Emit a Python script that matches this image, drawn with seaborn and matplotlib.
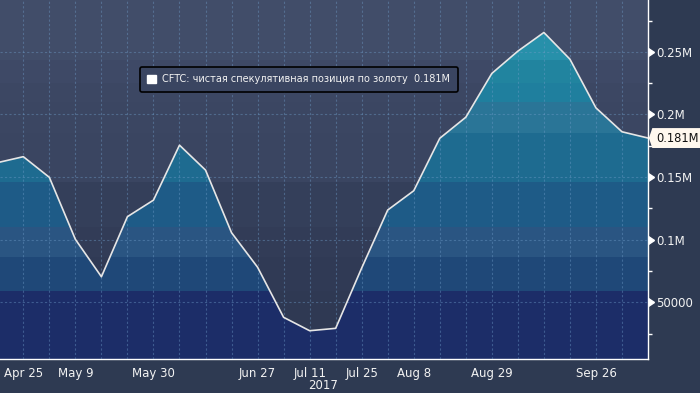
import pandas as pd
import seaborn as sns
import matplotlib.pyplot as plt
import matplotlib.dates as mdates
from matplotlib.markers import CARETRIGHTBASE
from matplotlib.patches import Patch
from matplotlib.path import Path
from matplotlib.ticker import FixedLocator, FixedFormatter, MultipleLocator
from matplotlib.transforms import blended_transform_factory

# weekly CFTC net speculative position in gold (contracts)
dates = ['2017-04-18', '2017-04-25', '2017-05-02', '2017-05-09', '2017-05-16',
         '2017-05-23', '2017-05-30', '2017-06-06', '2017-06-13', '2017-06-20',
         '2017-06-27', '2017-07-04', '2017-07-11', '2017-07-18', '2017-07-25',
         '2017-08-01', '2017-08-08', '2017-08-15', '2017-08-22', '2017-08-29',
         '2017-09-05', '2017-09-12', '2017-09-19', '2017-09-26', '2017-10-03',
         '2017-10-10']
net_position = [161500, 166300, 149800, 100300, 70400,
                118400, 131600, 175500, 155600, 105600,
                78000, 38000, 27300, 29200, 77400,
                123700, 139100, 181000, 197800, 232800,
                250600, 265500, 244200, 205300, 186200,
                181200]

labeled_dates = ['2017-04-25', '2017-05-09', '2017-05-30', '2017-06-27', '2017-07-11',
                 '2017-07-25', '2017-08-08', '2017-08-29', '2017-09-26']
ytick_values = [50000, 100000, 150000, 200000, 250000]
ytick_labels = ['50000', '0.1M', '0.15M', '0.2M', '0.25M']

series_label = 'CFTC: чистая спекулятивная позиция по золоту  0.181M'
last_label = '0.181M'

# horizontal colour bands (Bloomberg style gradient)
band_edges = [0, 59000, 86400, 110100, 146300, 184900, 210100, 224800, 243400, 300000]
area_colors = ['#1c2d68', '#1f4878', '#2a5582', '#1e5b87', '#1e6b90',
               '#2a7597', '#1f7f9e', '#21849f', '#2790aa']
bg_colors = ['#2f3953', '#303a55', '#323c57', '#343f5a', '#3a4561',
             '#3b4662', '#3c4763', '#3e4966', '#414d69']

df = pd.DataFrame({'date': pd.to_datetime(dates), 'value': net_position})

sns.set_style('dark')
plt.rcParams['font.family'] = ['DejaVu Sans']

fig = plt.figure(figsize=(7, 3.93), dpi=100, facecolor='#2e3a52')
ax = fig.add_axes([0, 1 - 359.3 / 393, 648 / 700, 359.3 / 393])
ax.set_facecolor('#3b4662')

# background bands
for lo, hi, c in zip(band_edges[:-1], band_edges[1:], bg_colors):
    ax.axhspan(lo, hi, color=c, lw=0, zorder=0)

# area under the line, coloured by bands
poly = ax.fill_between(df['date'], 0, df['value'], facecolor='none', lw=0)
clip = poly.get_paths()[0]
for lo, hi, c in zip(band_edges[:-1], band_edges[1:], area_colors):
    span = ax.axhspan(lo, hi, color=c, lw=0, zorder=1)
    span.set_clip_path(clip, ax.transData)

sns.lineplot(data=df, x='date', y='value', color='#e6e6e6', lw=1.2, ax=ax, zorder=4)
ax.set_xlabel('')
ax.set_ylabel('')

ax.set_ylim(4470, 291450)
ax.set_xlim(pd.Timestamp('2017-04-18 17:30'), df['date'].iloc[-1])

# x axis: a tick every week, labels on a few
ax.xaxis.set_major_locator(FixedLocator(mdates.date2num(df['date'])))
xlabels = [d.strftime('%b %-d') if d.strftime('%Y-%m-%d') in labeled_dates else ''
           for d in df['date']]
ax.xaxis.set_major_formatter(FixedFormatter(xlabels))
ax.tick_params(axis='x', which='major', direction='out', length=3, width=1,
               color='white', labelcolor='#f2f2f2', labelsize=8.5, pad=2.5)

# y axis on the right
ax.yaxis.tick_right()
ax.yaxis.set_major_locator(FixedLocator(ytick_values))
ax.yaxis.set_major_formatter(FixedFormatter(ytick_labels))
ax.yaxis.set_minor_locator(MultipleLocator(25000))
ax.tick_params(axis='y', which='major', length=5, width=1, color='white',
               labelcolor='#f2f2f2', labelsize=8.5, pad=0.8)
ax.tick_params(axis='y', which='minor', direction='out', length=3, width=1,
               color='white')

ax.grid(True, which='major', color='#6f9cc8', alpha=0.42, lw=0.8,
        linestyle=(0, (2, 2)))
ax.set_axisbelow(False)

for side in ['left', 'top']:
    ax.spines[side].set_visible(False)
for side in ['right', 'bottom']:
    ax.spines[side].set_visible(True)
    ax.spines[side].set_color('white')
    ax.spines[side].set_linewidth(1)

ax.text(0.4985, -0.072, '2017', transform=ax.transAxes, ha='center', va='center',
        color='#f2f2f2', fontsize=8.5)

# legend
handle = Patch(facecolor='white', edgecolor='white')
leg = ax.legend([handle], [series_label], loc='upper left',
                bbox_to_anchor=(0.216, 0.8135), borderaxespad=0, fontsize=7.0,
                frameon=True, fancybox=True, facecolor='#3a4561', edgecolor='black',
                framealpha=1, handlelength=0.95, handleheight=0.95, handletextpad=0.6,
                borderpad=0.75, labelcolor='#f2f2f2')
leg.get_frame().set_linewidth(1.2)


# value tag on the right axis
def tag_box(x0, y0, width, height, mutation_size):
    pad = mutation_size * 0.3
    x0, y0 = x0 - pad, y0 - pad
    x1, y1 = x0 + width + 2 * pad, y0 + height + 2 * pad
    tip = mutation_size * 0.3
    return Path([(x0, y0), (x1, y0), (x1, y1), (x0, y1),
                 (x0 - tip, (y0 + y1) / 2), (x0, y0)], closed=True)


trans = blended_transform_factory(ax.transAxes, ax.transData)
ax.annotate(last_label, xy=(1, df['value'].iloc[-1]), xycoords=trans,
            xytext=(5.6, 0), textcoords='offset points', ha='left', va='center',
            fontsize=8.3, color='#111111', annotation_clip=False,
            bbox=dict(boxstyle=tag_box, fc='#fff8ee', ec='none'))

for t in ax.yaxis.get_major_ticks():
    t.tick2line.set_marker(CARETRIGHTBASE)
    t.tick2line.set_markersize(5.5)

fig.savefig('out.png', dpi=100, facecolor=fig.get_facecolor())
